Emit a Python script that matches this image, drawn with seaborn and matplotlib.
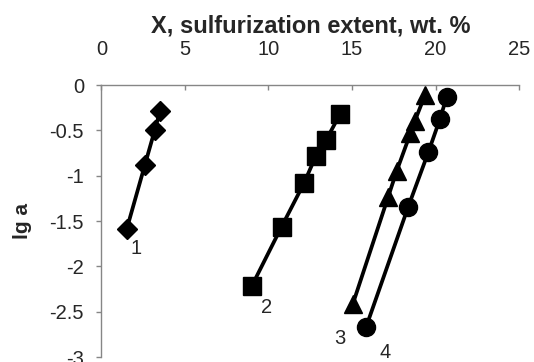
import matplotlib
matplotlib.use("Agg")
import matplotlib.pyplot as plt
import seaborn as sns
import pandas as pd


# series (x = sulfurization extent, wt.%; y = lg a)
x1 = [1.51, 2.60, 3.20, 3.50]
y1 = [-1.59, -0.88, -0.49, -0.29]

x2 = [8.99, 10.79, 12.13, 12.84, 13.44, 14.28]
y2 = [-2.22, -1.56, -1.08, -0.78, -0.61, -0.32]

x3 = [15.04, 17.17, 17.67, 18.50, 18.75, 19.37]
y3 = [-2.42, -1.23, -0.95, -0.53, -0.40, -0.11]

x4 = [15.84, 18.37, 19.57, 20.27, 20.67]
y4 = [-2.67, -1.34, -0.74, -0.37, -0.13]

series_names = ["1", "2", "3", "4"]
label_x = [2.1, 9.9, 14.25, 17.0]
label_y = [-1.80, -2.45, -2.80, -2.95]

x_ticks = [0, 5, 10, 15, 20, 25]
y_ticks = [0, -0.5, -1, -1.5, -2, -2.5, -3]
y_tick_labels = ["0", "-0.5", "-1", "-1.5", "-2", "-2.5", "-3"]


df = pd.concat([
    pd.DataFrame({"x": x, "y": y, "series": n})
    for n, x, y in zip(series_names, [x1, x2, x3, x4], [y1, y2, y3, y4])
])

sns.set_style("white")
plt.rcParams["font.family"] = ["Liberation Sans", "DejaVu Sans"]

fig = plt.figure(figsize=(5.34, 3.62), dpi=100)
ax = fig.add_axes([0.190, 0.0138, 0.782, 0.751])

markers = {"1": "D", "2": "s", "3": "^", "4": "o"}
msizes = {"1": 10.0, "2": 12.5, "3": 13.5, "4": 13.0}

for n in series_names:
    sub = df[df["series"] == n]
    sns.lineplot(data=sub, x="x", y="y", ax=ax, color="black", lw=2.7,
                 marker=markers[n], markersize=msizes[n], markeredgewidth=1,
                 markeredgecolor="black", sort=False, estimator=None)

for n, lx, ly in zip(series_names, label_x, label_y):
    ax.text(lx, ly, n, fontsize=14.5, ha="center", va="center")

ax.set_xlim(0, 25)
ax.set_ylim(-3, 0)
ax.xaxis.tick_top()
ax.xaxis.set_label_position("top")
ax.set_xticks(x_ticks)
ax.set_yticks(y_ticks)
ax.set_yticklabels(y_tick_labels)

for s in ["bottom", "right"]:
    ax.spines[s].set_visible(False)
for s in ["top", "left"]:
    ax.spines[s].set_color("#868686")
    ax.spines[s].set_linewidth(1.0)

ax.tick_params(axis="x", direction="in", length=3.6, width=1, color="#868686",
               labelsize=14.5, pad=18.5, top=True, bottom=False)
ax.tick_params(axis="y", direction="out", length=3.6, width=1, color="#868686",
               labelsize=14.5, pad=9, left=True)

ax.set_xlabel("X, sulfurization extent, wt. %", fontsize=17, fontweight="bold",
              labelpad=6)
ax.set_ylabel("lg a", fontsize=15, fontweight="bold")
ax.yaxis.set_label_coords(-0.166, 0.5)

fig.savefig("out.png", dpi=100)
